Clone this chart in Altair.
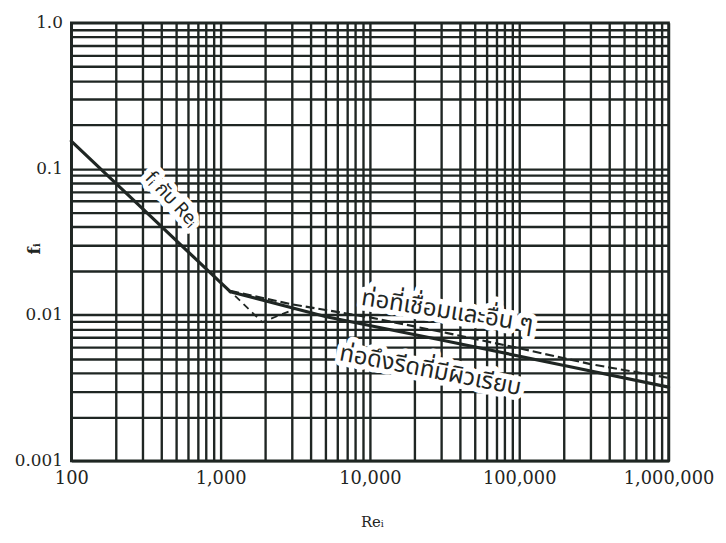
import altair as alt
import pandas as pd

INK = "#1f2623"

# ---- data ----
re_laminar = [100, 1160]
f_laminar = [0.155, 0.0144]

re_smooth = [1160, 5100, 33000, 200000, 1000000]
f_smooth = [0.0144, 0.0097, 0.0066, 0.0045, 0.0032]

re_welded = [1160, 3000, 10000, 33000, 100000, 300000, 1000000]
f_welded = [0.0146, 0.0118, 0.0096, 0.0075, 0.0059, 0.0046, 0.0037]

re_transition = [1250, 1900, 3100]
f_transition = [0.0135, 0.0089, 0.0109]

x_major = [100, 1000, 10000, 100000, 1000000]
x_tick_labels = ["100", "1,000", "10,000", "100,000", "1,000,000"]
y_major = [0.001, 0.01, 0.1, 1.0]
y_tick_labels = ["0.001", "0.01", "0.1", "1.0"]
minor_steps = [1, 2, 3, 4, 5, 6, 7, 8, 9]

label_text = ["fᵢ กับ Reᵢ", "ท่อที่เชื่อมและอื่น ๆ", "ท่อดึงรีดที่มีผิวเรียบ"]
label_re = [470, 33000, 25400]
label_f = [0.062, 0.01054, 0.00414]
label_angle = [47, 9, 11]
label_size = [19, 24, 24]

# ---- grid values ----
x_grid = [m * d for d in x_major[:-1] for m in minor_steps] + [x_major[-1]]
y_grid = [m * d for d in y_major[:-1] for m in minor_steps] + [y_major[-1]]


def label_expr(values, labels):
    expr = "''"
    for v, t in reversed(list(zip(values, labels))):
        expr = f"abs(datum.value / {v} - 1) < 1e-6 ? '{t}' : ({expr})"
    return expr


xscale = alt.Scale(type="log", domain=[100, 1000000], nice=False)
yscale = alt.Scale(type="log", domain=[0.001, 1.0], nice=False)

x_axis = alt.Axis(
    values=x_grid, labelExpr=label_expr(x_major, x_tick_labels),
    grid=True, gridColor=INK, gridWidth=2.4, ticks=False, domain=False,
    labelFont="DejaVu Serif", labelFontSize=18, labelFontWeight="normal",
    labelColor=INK, labelPadding=9,
    labelOverlap=False, labelFlush=False,
    title="Reᵢ", titleFont="DejaVu Serif", titleFontSize=15, titleFontWeight="normal",
    titleColor=INK, titleX=304, titleY=61, titleBaseline="middle", titleAlign="center",
)
y_axis = alt.Axis(
    values=y_grid, labelExpr=label_expr(y_major, y_tick_labels),
    grid=True, gridColor=INK, gridWidth=2.4, ticks=False, domain=False,
    labelFont="DejaVu Serif", labelFontSize=17, labelFontWeight="normal",
    labelColor=INK, labelPadding=9,
    labelOverlap=False, labelFlush=False,
    title="fᵢ", titleFont="DejaVu Serif", titleFontSize=17, titleFontWeight="bold",
    titleColor=INK, titleX=-37, titleY=228, titleBaseline="middle", titleAlign="center",
)

X = alt.X("Re:Q", scale=xscale, axis=x_axis)
Y = alt.Y("f:Q", scale=yscale, axis=y_axis)


def line_layer(re, f, width, dash=None):
    df = pd.DataFrame({"Re": re, "f": f})
    kw = dict(color=INK, strokeWidth=width, strokeCap="round", strokeJoin="round")
    if dash:
        kw["strokeDash"] = dash
        kw["strokeCap"] = "butt"
    return alt.Chart(df).mark_line(**kw).encode(x=X, y=Y)


font = "Noto Sans Thai, Loma, Garuda, Norasi, Noto Sans, sans-serif"
halos = []
texts = []
for txt, r, fv, ang, size in zip(label_text, label_re, label_f, label_angle, label_size):
    tdf = pd.DataFrame({"Re": [r], "f": [fv], "t": [txt]})
    base = alt.Chart(tdf).encode(x=X, y=Y, text="t:N")
    halos.append(base.mark_text(angle=ang, font=font, fontSize=size, fill="white",
                                stroke="white", strokeWidth=11, strokeJoin="round"))
    texts.append(base.mark_text(angle=ang, font=font, fontSize=size, color=INK))

lines = [
    line_layer(re_laminar, f_laminar, 3.2),
    line_layer(re_welded, f_welded, 2.2, dash=[9, 4]),
    line_layer(re_transition, f_transition, 1.8, dash=[7, 5]),
    line_layer(re_smooth, f_smooth, 3.2),
]

chart = alt.layer(*halos, *lines, *texts).properties(
    width=604, height=443,
    padding={"left": 64, "top": 12, "right": 50, "bottom": 72},
    autosize="none",
).configure_view(stroke=INK, strokeWidth=2.6)

chart.save("out.html", embed_options={"renderer": "svg", "actions": False})
